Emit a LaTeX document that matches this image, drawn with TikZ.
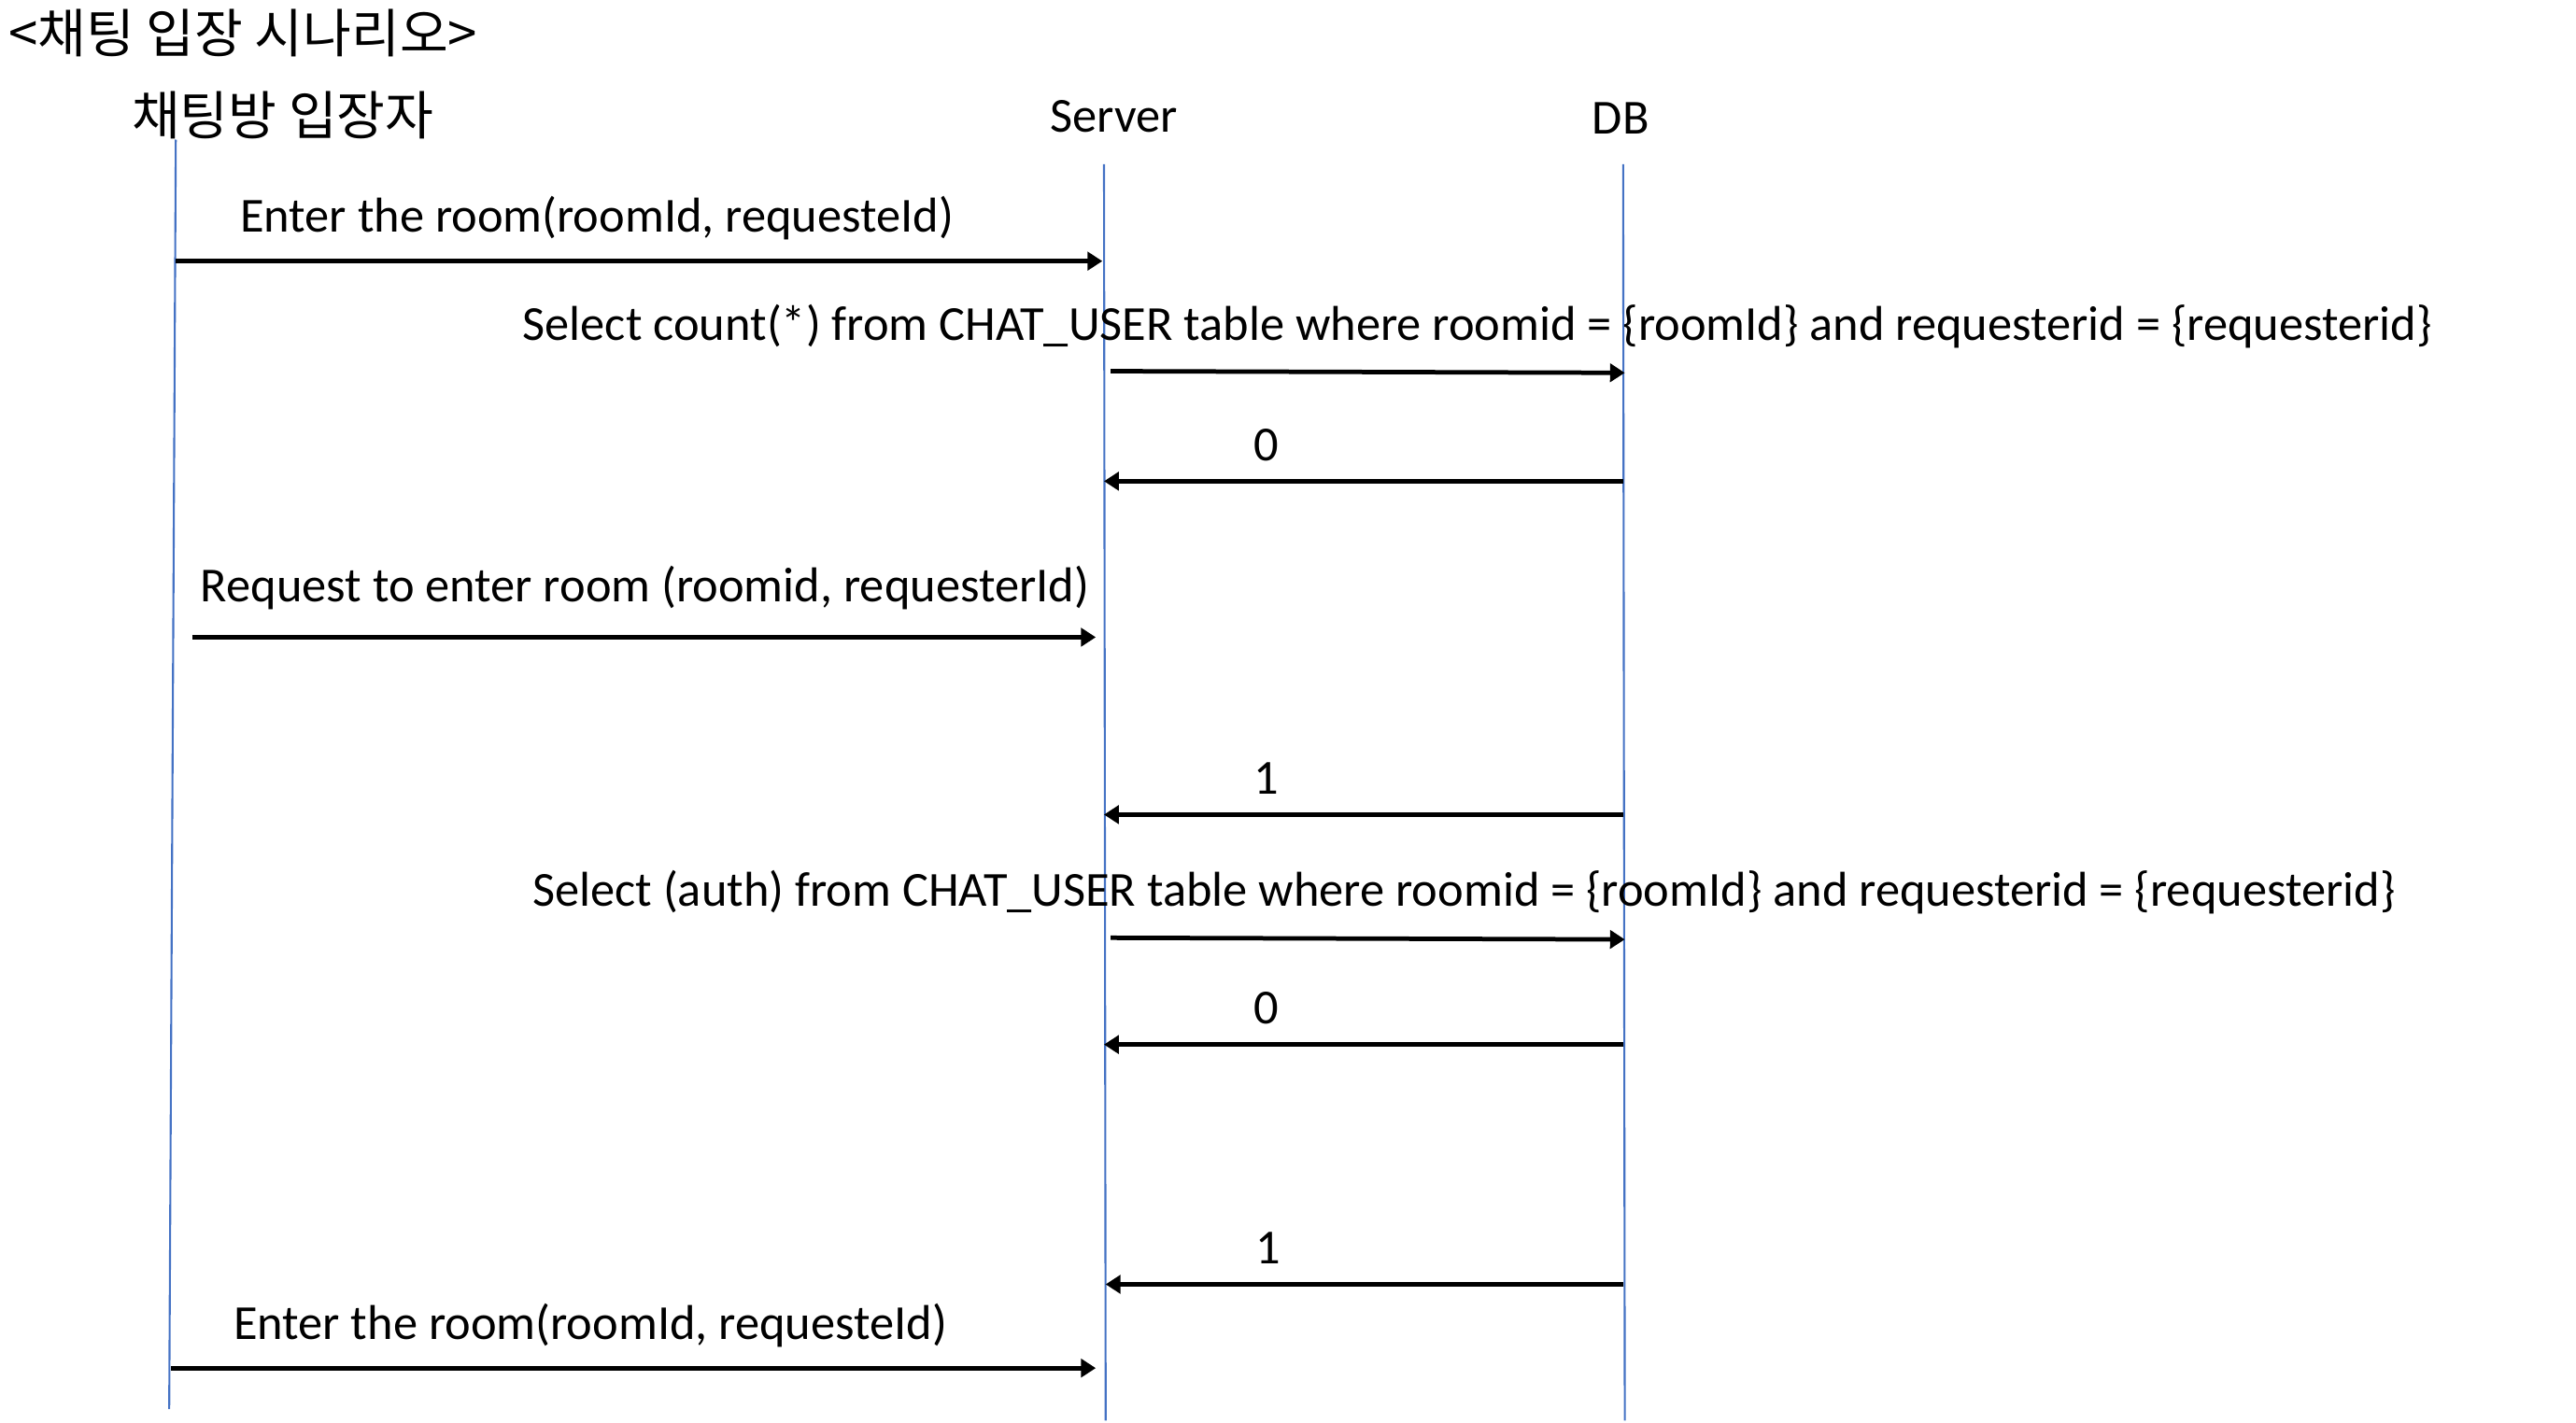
\documentclass[tikz,border=0pt]{standalone}
\usepackage{fontspec}
\setmainfont{Carlito}
\newfontfamily\kr{Noto Sans CJK KR}
\usetikzlibrary{arrows.meta}
\definecolor{life}{HTML}{4472C4}
\begin{document}
\begin{tikzpicture}[x=1pt,y=-1pt,
  lbl/.style={anchor=west,inner sep=0pt,font=\fontsize{29.8}{32}\selectfont},
  num/.style={anchor=center,inner sep=0pt,font=\fontsize{29.8}{32}\selectfont},
  krl/.style={anchor=west,inner sep=0pt,font=\kr\fontsize{32}{34}\selectfont},
  lifeline/.style={draw=life,line width=1.2pt},
  msg/.style={draw=black,line width=2.7pt,-{Triangle[length=9pt,width=11pt]}}]
\useasboundingbox (0,0) rectangle (1568,866);
% headers
\node[krl] (title) at (5,20) {<채팅 입장 시나리오>};
\node[krl] (user) at (80,70) {채팅방 입장자};
\node[lbl] (server) at (639,71) {Server};
\node[lbl] (db) at (969,72) {DB};
% lifelines
\coordinate (ut) at (107,85);
\coordinate (ub) at (103,858);
\coordinate (st) at (672,100);
\coordinate (sb) at (673,865);
\coordinate (dt) at (988,100);
\coordinate (dbb) at (989,865);
\draw[lifeline] (ut) -- (ub);
\draw[lifeline] (st) -- (sb);
\draw[lifeline] (dt) -- (dbb);
% messages
\coordinate (a1s) at (107,159); \coordinate (a1e) at (671,159);
\coordinate (a2s) at (676,226); \coordinate (a2e) at (989,227);
\coordinate (a3s) at (988,293); \coordinate (a3e) at (672,293);
\coordinate (a4s) at (117,388); \coordinate (a4e) at (667,388);
\coordinate (a5s) at (988,496); \coordinate (a5e) at (672,496);
\coordinate (a6s) at (676,571); \coordinate (a6e) at (989,572);
\coordinate (a7s) at (988,636); \coordinate (a7e) at (672,636);
\coordinate (a8s) at (988,782); \coordinate (a8e) at (673,782);
\coordinate (a9s) at (104,833); \coordinate (a9e) at (667,833);
\draw[msg] (a1s) -- (a1e);
\draw[msg] (a2s) -- (a2e);
\draw[msg] (a3s) -- (a3e);
\draw[msg] (a4s) -- (a4e);
\draw[msg] (a5s) -- (a5e);
\draw[msg] (a6s) -- (a6e);
\draw[msg] (a7s) -- (a7e);
\draw[msg] (a8s) -- (a8e);
\draw[msg] (a9s) -- (a9e);
% labels
\node[lbl] (t1) at (146,133) {Enter the room(roomId, requesteId)};
\node[lbl] (t2) at (318,199) {Select count(*) from CHAT\_USER table where roomid = \{roomId\} and requesterid = \{requesterid\}};
\node[num] (t3) at (771,271) {0};
\node[lbl] (t4) at (122,358) {Request to enter room (roomid, requesterId)};
\node[num] (t5) at (771,474) {1};
\node[lbl] (t6) at (324,543) {Select (auth) from CHAT\_USER table where roomid = \{roomId\} and requesterid = \{requesterid\}};
\node[num] (t7) at (771,614) {0};
\node[num] (t8) at (772,760) {1};
\node[lbl] (t9) at (142,807) {Enter the room(roomId, requesteId)};
\end{tikzpicture}
\end{document}
